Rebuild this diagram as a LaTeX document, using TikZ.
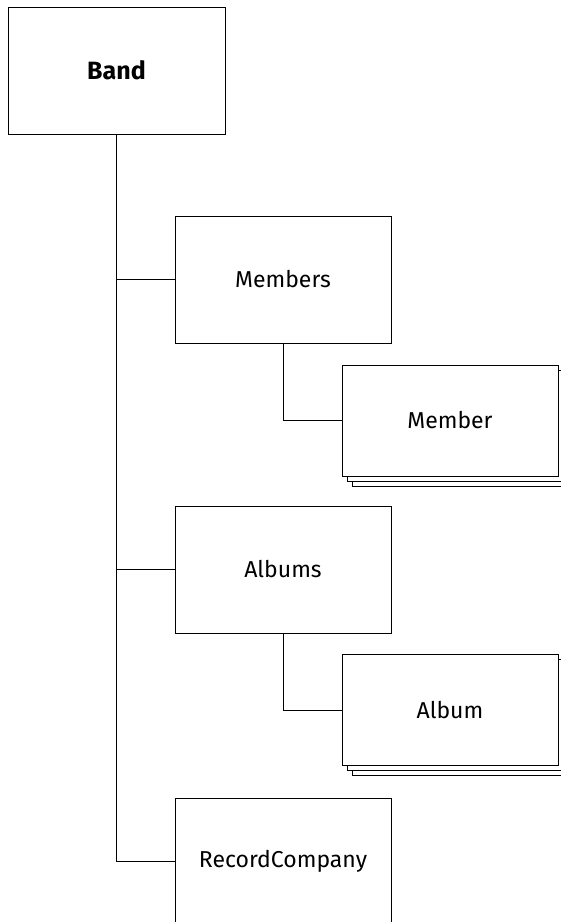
\documentclass[tikz,border=0pt]{standalone}
\usepackage{fontspec}
\setmainfont{Fira Sans}
\usetikzlibrary{shadows}

\tikzset{
	entity/.style={draw, line width=1pt, fill=white, minimum width=216pt, minimum height=127pt, inner sep=0pt, font=\fontsize{23}{27}\selectfont},
	entities/.style={entity, minimum height=111pt, double copy shadow={shadow xshift=5pt, shadow yshift=-5pt, draw, line width=1pt, fill=white}},
	link/.style={line width=1pt}
}

\begin{document}
\begin{tikzpicture}[x=1pt, y=-1pt]
		%%%%% START %%%%%
		\useasboundingbox (0, 0) rectangle (561, 922);
		
		\node[entity, minimum width=217pt, font=\fontsize{25}{29}\selectfont\bfseries] (band) at (116.5, 70.5) {Band};
		
		\node[entity] (members) at (283, 279.5) {Members};
		\node[entities] (member) at (450, 420.5) {Member};
		
		\node[entity] (albums) at (283, 569.5) {Albums};
		\node[entities] (album) at (450, 710) {Album};
		
		\node[entity] (company) at (283, 861.5) {RecordCompany};
		
		\draw[link] (band.south) |- (company.west);
		\draw[link] (band.south |- members.west) -- (members.west);
		\draw[link] (band.south |- albums.west) -- (albums.west);
		
		\draw[link] (members.south) |- (member.west);
		\draw[link] (albums.south) |- (album.west);
		
		%%%%% END %%%%%
\end{tikzpicture}
\end{document}
